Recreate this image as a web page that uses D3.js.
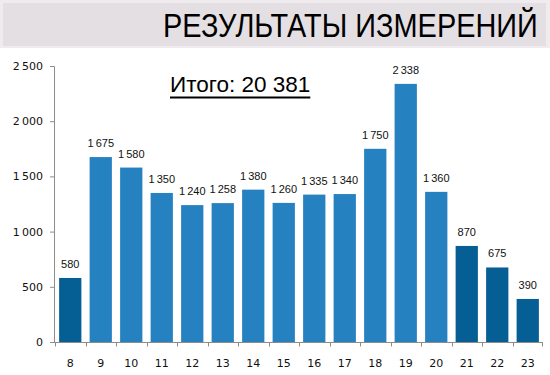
<!DOCTYPE html>
<html>
<head>
<meta charset="utf-8">
<script src="https://cdn.jsdelivr.net/npm/d3@7"></script>
<style>
  body { margin: 0; background: #fff; }
  svg { display: block; }
</style>
</head>
<body>
<div id="chart"></div>
<script>
// hours of the day and measured counts
const hours = ["8", "9", "10", "11", "12", "13", "14", "15", "16", "17", "18", "19", "20", "21", "22", "23"];
const counts = [580, 1675, 1580, 1350, 1240, 1258, 1380, 1260, 1335, 1340, 1750, 2338, 1360, 870, 675, 390];
const darkHours = ["8", "21", "22", "23"];
const yTicks = [0, 500, 1000, 1500, 2000, 2500];
const titleText = "РЕЗУЛЬТАТЫ ИЗМЕРЕНИЙ";
const totalLabel = "Итого: ";

const width = 550, height = 375;
const margin = {top: 66, right: 7, bottom: 33, left: 55};

const svg = d3.select("#chart").append("svg")
              .attr("width", width)
              .attr("height", height);

// thin-space thousands separator, like "2 500"
const fmt = v => d3.format(",")(v).replace(/,/g, "\u2009");

// title band
svg.append("rect")
   .attr("x", 0).attr("y", 0)
   .attr("width", width).attr("height", 48)
   .attr("fill", "#efebee");
svg.append("rect")
   .attr("x", 3).attr("y", 3)
   .attr("width", 543).attr("height", 43)
   .attr("fill", "#e4dfe3");

// the title is a condensed face in the original, so squeeze it horizontally
let titleG = svg.append("g");
let title = titleG.append("text")
   .attr("x", 0).attr("y", 0)
   .style("font", "33px 'Liberation Sans', Arial, sans-serif")
   .attr("fill", "#000")
   .text(titleText);
let titleW = title.node().getComputedTextLength();
titleG.attr("transform", "translate(163,37) scale(" + (375 / titleW) + ",1)");

const x = d3.scaleBand()
            .domain(hours)
            .range([margin.left, width - margin.right])
            .paddingInner(0.27)
            .paddingOuter(0.135);

const y = d3.scaleLinear()
            .domain([0, 2500])
            .range([height - margin.bottom, margin.top]);

// y axis
let yAxis = svg.append("g")
               .attr("transform", "translate(" + (margin.left - 1) + ",0)")
               .call(d3.axisLeft(y).tickValues(yTicks).tickFormat(fmt).tickSize(4).tickPadding(7));
yAxis.select(".domain").attr("stroke", "#8c8c8c");
yAxis.selectAll(".tick line").attr("stroke", "#8c8c8c");
yAxis.selectAll("text")
     .style("font", "11px 'DejaVu Sans', sans-serif")
     .attr("fill", "#111");

// bars
svg.append("g").selectAll("rect")
   .data(hours)
   .join("rect")
   .attr("x", d => x(d))
   .attr("y", (d, i) => y(counts[i]))
   .attr("width", x.bandwidth())
   .attr("height", (d, i) => y(0) - y(counts[i]))
   .attr("fill", d => darkHours.includes(d) ? "#065f94" : "#2581c0");

// value labels
svg.append("g").selectAll("text")
   .data(hours)
   .join("text")
   .attr("x", d => x(d) + x.bandwidth() / 2)
   .attr("y", (d, i) => y(counts[i]) - 10)
   .attr("text-anchor", "middle")
   .style("font", "11px 'Liberation Sans', Arial, sans-serif")
   .attr("fill", "#111")
   .text((d, i) => fmt(counts[i]));

// x axis with ticks between categories
let xAxisG = svg.append("g")
                .attr("transform", "translate(0," + (y(0) + 0.5) + ")");
xAxisG.append("line")
      .attr("x1", margin.left - 1).attr("x2", width - margin.right)
      .attr("stroke", "#8c8c8c");
xAxisG.selectAll(".sep")
      .data(hours)
      .join("line")
      .attr("class", "sep")
      .attr("x1", d => Math.round(x(d) - x.step() * x.paddingInner() / 2) + 0.5)
      .attr("x2", d => Math.round(x(d) - x.step() * x.paddingInner() / 2) + 0.5)
      .attr("y1", 0).attr("y2", 4)
      .attr("stroke", "#8c8c8c");
xAxisG.append("line")
      .attr("x1", width - margin.right - 0.5).attr("x2", width - margin.right - 0.5)
      .attr("y1", 0).attr("y2", 4)
      .attr("stroke", "#8c8c8c");
xAxisG.selectAll(".lbl")
      .data(hours)
      .join("text")
      .attr("class", "lbl")
      .attr("x", d => x(d) + x.bandwidth() / 2)
      .attr("y", 24)
      .attr("text-anchor", "middle")
      .style("font", "11px 'DejaVu Sans', sans-serif")
      .attr("fill", "#111")
      .text(d => d);

// total caption, underlined
let total = d3.sum(counts);
let totalText = svg.append("text")
                   .attr("x", 170).attr("y", 92)
                   .style("font", "22.5px 'Liberation Sans', Arial, sans-serif")
                   .attr("fill", "#000")
                   .text(totalLabel + d3.format(",")(total).replace(/,/g, " "));
let tw = totalText.node().getComputedTextLength();
svg.append("line")
   .attr("x1", 170).attr("x2", 170 + tw)
   .attr("y1", 97.5).attr("y2", 97.5)
   .attr("stroke", "#000")
   .attr("stroke-width", 2);
</script>
</body>
</html>
